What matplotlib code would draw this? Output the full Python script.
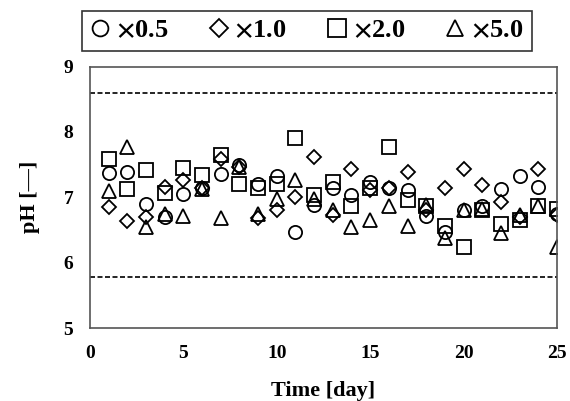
import matplotlib
matplotlib.use("Agg")
import matplotlib.pyplot as plt

days = list(range(1, 26))
ph_x05 = [7.37, 7.38, 6.90, 6.70, 7.05, 7.14, 7.36, 7.49, 7.21, 7.32, 6.47, 6.88, 7.14,
          7.04, 7.24, 7.14, 7.11, 6.71, 6.47, 6.81, 6.86, 7.13, 7.33, 7.15, 6.74]
ph_x10 = [6.85, 6.63, 6.70, 7.16, 7.26, 7.14, 7.58, 7.46, 6.68, 6.81, 7.01, 7.62, 6.73,
          7.44, 7.11, 7.14, 7.38, 6.81, 7.14, 7.43, 7.19, 6.93, 6.70, 7.44, 6.73]
ph_x20 = [7.58, 7.13, 7.42, 7.06, 7.45, 7.34, 7.65, 7.21, 7.14, 7.21, 7.90, 7.04, 7.24,
          6.86, 7.14, 7.77, 6.96, 6.87, 6.56, 6.24, 6.81, 6.59, 6.66, 6.86, 6.82]
ph_x50 = [7.10, 7.77, 6.55, 6.75, 6.72, 7.12, 6.68, 7.47, 6.75, 6.98, 7.26, 6.98, 6.81,
          6.54, 6.65, 6.86, 6.56, 6.88, 6.37, 6.81, 6.82, 6.46, 6.73, 6.87, 6.24]
labels = [r"$\times$0.5", r"$\times$1.0", r"$\times$2.0", r"$\times$5.0"]
upper_limit = 8.6
lower_limit = 5.78

plt.rcParams['font.family'] = ['Liberation Serif', 'DejaVu Serif']
plt.rcParams['font.weight'] = 'bold'
plt.rcParams['mathtext.fontset'] = 'stix'

fig = plt.figure(figsize=(5.7, 4.01), dpi=100)
ax = fig.add_axes([0.158, 0.182, 0.819, 0.652])

series = [ph_x05, ph_x10, ph_x20, ph_x50]
markers = ['o', 'D', 's', '^']
sizes = [9.5, 7.6, 10.6, 10.0]
handles = []
for vals, m, s, lab in zip(series, markers, sizes, labels):
    h, = ax.plot(days, vals, linestyle='none', marker=m, markersize=s,
                 markerfacecolor='none', markeredgecolor='black',
                 markeredgewidth=1.3, label=lab)
    handles.append(h)

ax.axhline(upper_limit, color='black', linestyle=(0, (3, 1.5)), linewidth=1.2)
ax.axhline(lower_limit, color='black', linestyle=(0, (3, 1.5)), linewidth=1.2)

ax.set_xlim(0, 25)
ax.set_ylim(5, 9)
ax.set_xticks([0, 5, 10, 15, 20, 25])
ax.set_yticks([5, 6, 7, 8, 9])
ax.tick_params(axis='x', length=0, labelsize=14, pad=12)
ax.tick_params(axis='y', length=0, labelsize=14, pad=12)
for lbl in ax.get_xticklabels() + ax.get_yticklabels():
    lbl.set_fontweight('bold')
for sp in ax.spines.values():
    sp.set_color('#555555')
    sp.set_linewidth(1.2)

ax.set_xlabel("Time [day]", fontsize=16, fontweight='bold', labelpad=14)
ax.set_ylabel("pH [—]", fontsize=16, fontweight='bold', labelpad=17)

leg = fig.legend(handles=handles, labels=labels, ncol=4,
                 loc='center', bbox_to_anchor=(0.538, 0.923),
                 frameon=True, fancybox=False, edgecolor='black',
                 prop={'size': 19, 'weight': 'bold'}, markerscale=1.2,
                 handlelength=0.8, handletextpad=0.2, columnspacing=1.5,
                 borderpad=0.3)
leg.get_frame().set_linewidth(1.2)

fig.savefig("out.png", dpi=100)
